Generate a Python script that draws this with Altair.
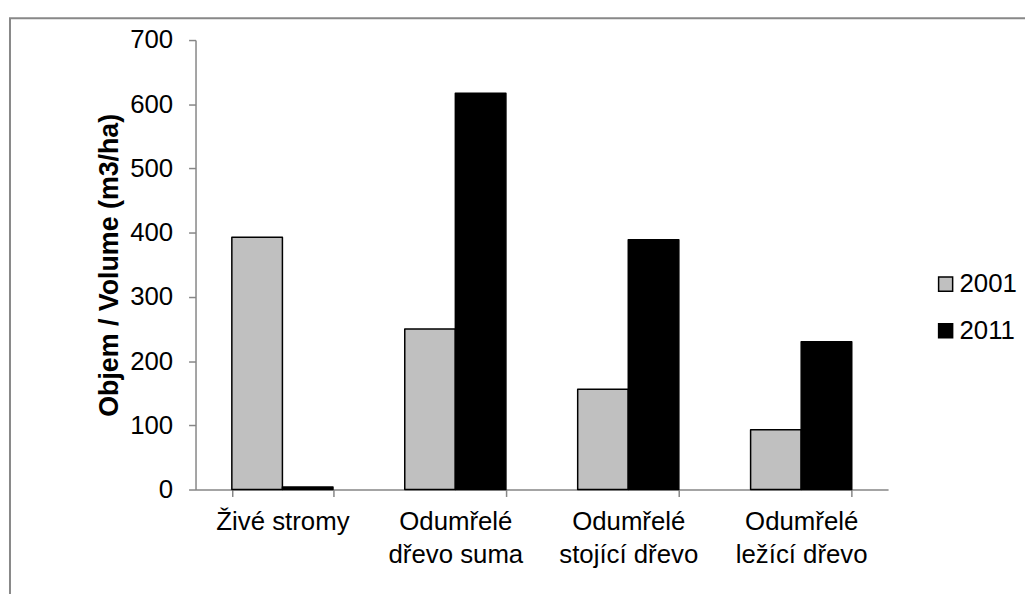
import altair as alt
import pandas as pd

categories = ["Živé stromy", "Odumřelé dřevo suma", "Odumřelé stojící dřevo", "Odumřelé ležící dřevo"]
labels = ["Živé stromy", "Odumřelé|dřevo suma", "Odumřelé|stojící dřevo", "Odumřelé|ležící dřevo"]
years = ["2001", "2011"]
v2001 = [393, 250, 156, 93]
v2011 = [4, 617, 389, 230]

rows = []
for c, l, a, b in zip(categories, labels, v2001, v2011):
    rows.append({"cat": l, "year": "2001", "value": a})
    rows.append({"cat": l, "year": "2011", "value": b})
df = pd.DataFrame(rows)

FONT = "Liberation Sans"

bars = alt.Chart(df).mark_bar(stroke="black", strokeWidth=1.5, strokeJoin="round").encode(
    x=alt.X("cat:N", sort=labels,
            scale=alt.Scale(paddingInner=0.415, paddingOuter=0.21),
            axis=alt.Axis(title=None, labelExpr="split(datum.label, '|')", labelAngle=0,
                          labelFont=FONT, labelFontSize=26, labelColor="black",
                          labelLineHeight=34, labelPadding=12,
                          domainColor="#868686", domainWidth=1.5,
                          tickColor="#868686", tickWidth=1.5, tickSize=7, tickBand="extent")),
    xOffset=alt.XOffset("year:N", sort=years),
    y=alt.Y("value:Q", scale=alt.Scale(domain=[0, 700]),
            axis=alt.Axis(title="Objem / Volume (m3/ha)", values=list(range(0, 701, 100)),
                          titleFont=FONT, titleFontSize=27, titleFontWeight="bold", titleColor="black",
                          titlePadding=6,
                          labelFont=FONT, labelFontSize=26, labelColor="black", labelPadding=16,
                          domainColor="#868686", domainWidth=1.5, grid=False,
                          tickColor="#868686", tickWidth=1.5, tickSize=7)),
    color=alt.Color("year:N", sort=years,
                    scale=alt.Scale(domain=years, range=["#c0c0c0", "#000000"]),
                    legend=alt.Legend(title=None, orient="none", legendX=743, legendY=233,
                                      symbolType="square", symbolSize=200, symbolStrokeColor="black",
                                      symbolStrokeWidth=1.5,
                                      labelFont=FONT, labelFontSize=26, labelColor="black",
                                      labelOffset=1, rowPadding=21)),
)

frame = alt.Chart(pd.DataFrame({"a": [0]})).mark_rect(
    fill=None, stroke="#888888", strokeWidth=2, clip=False
).encode(
    x=alt.value(-187), x2=alt.value(900), y=alt.value(-22), y2=alt.value(600)
)

chart = alt.layer(frame, bars).properties(
    width=698, height=453,
    autosize=alt.AutoSizeParams(type="none"),
    padding={"left": 189, "top": 30, "right": 138, "bottom": 103},
).configure_view(stroke=None)

chart.save("out.html", embed_options={"renderer": "svg", "actions": False})
